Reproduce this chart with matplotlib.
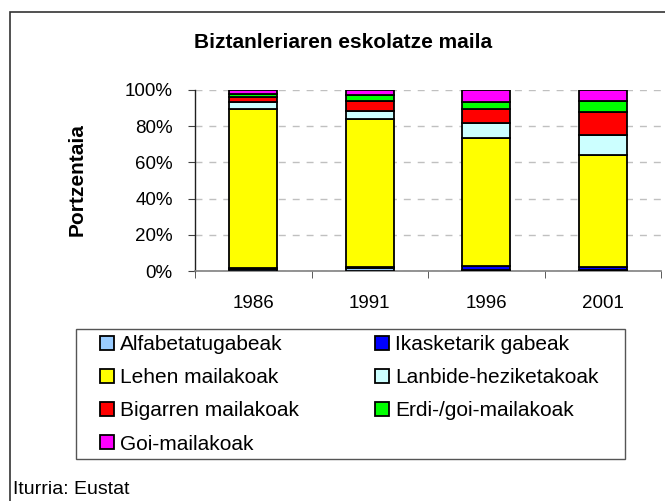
import matplotlib.pyplot as plt
import matplotlib.patches as patches
import numpy as np

plt.rcParams['font.family'] = ['Liberation Sans', 'DejaVu Sans']

# data (percentages)
years = ['1986', '1991', '1996', '2001']
labels = ['Alfabetatugabeak', 'Ikasketarik gabeak', 'Lehen mailakoak',
          'Lanbide-heziketakoak', 'Bigarren mailakoak', 'Erdi-/goi-mailakoak',
          'Goi-mailakoak']
alfabetatugabeak = [1.0, 1.5, 0.8, 0.6]
ikasketarik_gabeak = [0.7, 0.5, 2.0, 1.6]
lehen_mailakoak = [87.6, 81.9, 70.8, 61.9]
lanbide_heziketakoak = [4.0, 4.6, 8.3, 11.1]
bigarren_mailakoak = [2.6, 5.6, 7.7, 12.4]
erdi_goi_mailakoak = [1.8, 3.3, 3.7, 6.1]
goi_mailakoak = [2.3, 2.6, 6.7, 6.3]
colors = ['#99CCFF', '#0000FF', '#FFFF00', '#CCFFFF', '#FF0000', '#00FF00', '#FF00FF']

series = [alfabetatugabeak, ikasketarik_gabeak, lehen_mailakoak,
          lanbide_heziketakoak, bigarren_mailakoak, erdi_goi_mailakoak,
          goi_mailakoak]

fig = plt.figure(figsize=(6.65, 5.01), dpi=100)
W, H = 665, 501

# outer frame
frame = patches.Rectangle((10 / W, -0.1), 1.2, 1.1 - 12 / H, transform=fig.transFigure,
                          fill=False, edgecolor='#333333', linewidth=1.2)
fig.patches.append(frame)

ax = fig.add_axes([195 / W, 1 - 271 / H, (661 - 195) / W, (271 - 90) / H])

x = np.arange(len(years))
bottom = np.zeros(len(years))
handles = []
for vals, col, lab in zip(series, colors, labels):
    v = np.array(vals) / 100.0
    b = ax.bar(x, v, 0.41, bottom=bottom, color=col, edgecolor='black',
               linewidth=1.3, label=lab, zorder=3)
    handles.append(b)
    bottom += v

ax.set_xlim(-0.5, len(years) - 0.5)
ax.set_ylim(0, 1)
ax.set_yticks(np.arange(0, 1.01, 0.2))
ax.set_yticklabels(['0%', '20%', '40%', '60%', '80%', '100%'], fontsize=13.5)
ax.set_xticks(x)
ax.set_xticklabels(years, fontsize=13.5)
ax.set_xticks(np.arange(-0.5, len(years)), minor=True)
ax.tick_params(axis='x', which='major', length=0, pad=17)
ax.tick_params(axis='x', which='minor', length=5, direction='out', color='#404040')
ax.tick_params(axis='y', length=5, direction='out', pad=11, color='#404040')

ax.yaxis.grid(True, color='#C0C0C0', linestyle=(0, (5, 5)), linewidth=1.0, zorder=0)
for s in ['top', 'right']:
    ax.spines[s].set_visible(False)
ax.spines['left'].set_color('#202020')
ax.spines['bottom'].set_color('#808080')
ax.spines['left'].set_linewidth(1.0)
ax.spines['bottom'].set_linewidth(1.2)

fig.text(343 / W, 1 - 42 / H, 'Biztanleriaren eskolatze maila', ha='center', va='center',
         fontsize=15, fontweight='bold')
fig.text(77 / W, 1 - 180 / H, 'Portzentaia', rotation=90, ha='center', va='center',
         fontsize=15, fontweight='bold')
fig.text(13 / W, 3 / H, 'Iturria: Eustat', ha='left', va='bottom', fontsize=14)

# legend box
lbox = patches.Rectangle((76 / W, 1 - 459 / H), (625 - 76) / W, (459 - 329) / H,
                         transform=fig.transFigure, fill=False, edgecolor='#555555',
                         linewidth=1.0)
fig.patches.append(lbox)

leg_kw = dict(frameon=False, fontsize=15, handlelength=0.65, handleheight=0.65,
              handletextpad=0.3, labelspacing=0.68, borderaxespad=0, borderpad=0,
              loc='upper left')
fig.legend([handles[i] for i in (0, 2, 4, 6)], [labels[i] for i in (0, 2, 4, 6)],
           bbox_to_anchor=(100 / W, 1 - 335 / H), **leg_kw)
fig.legend([handles[i] for i in (1, 3, 5)], [labels[i] for i in (1, 3, 5)],
           bbox_to_anchor=(375 / W, 1 - 335 / H), **leg_kw)

fig.savefig('out.png', dpi=100)
